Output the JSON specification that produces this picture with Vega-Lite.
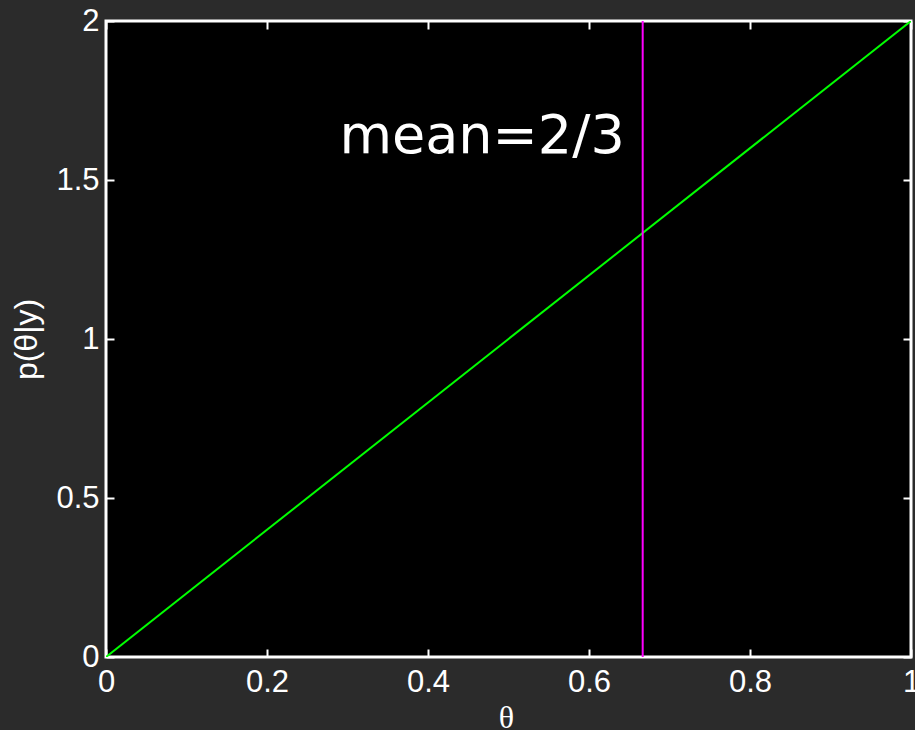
{
  "$schema": "https://vega.github.io/schema/vega-lite/v6.json",
  "width": 805,
  "height": 636,
  "autosize": {"type": "none"},
  "padding": {"left": 106, "top": 21, "right": 4, "bottom": 73},
  "background": "#2b2b2b",
  "config": {
    "view": {"fill": "#000000", "stroke": "#ffffff", "strokeWidth": 3},
    "axis": {
      "domain": false,
      "grid": false,
      "tickColor": "#ffffff",
      "tickWidth": 2,
      "tickSize": -8,
      "labelColor": "#ffffff",
      "labelFont": "Liberation Sans",
      "labelFontSize": 31,
      "titleColor": "#ffffff",
      "labelOverlap": false,
      "labelFlush": false,
      "labelBound": false
    }
  },
  "resolve": {"axis": {"x": "independent", "y": "independent"}},
  "layer": [
    {
      "data": {"values": [{"theta": 0, "p": 0}, {"theta": 0.5, "p": 1}, {"theta": 1, "p": 2}]},
      "mark": {"type": "line", "color": "#00ff00", "strokeWidth": 2, "clip": true},
      "encoding": {
        "x": {
          "field": "theta", "type": "quantitative",
          "scale": {"domain": [0, 1], "nice": false, "zero": false},
          "axis": {
            "orient": "bottom",
            "values": [0, 0.2, 0.4, 0.6, 0.8, 1],
            "format": ".1~f",
            "labelPadding": 18,
            "title": "θ",
            "titleFont": "Liberation Serif",
            "titleFontSize": 32,
            "titleFontWeight": "normal",
            "titleBaseline": "alphabetic",
            "titleAnchor": null,
            "titleX": 400,
            "titleY": 70
          }
        },
        "y": {
          "field": "p", "type": "quantitative",
          "scale": {"domain": [0, 2], "nice": false, "zero": false},
          "axis": {
            "orient": "left",
            "values": [0, 0.5, 1, 1.5, 2],
            "format": ".1~f",
            "labelPadding": 15,
            "title": "p(θ|y)",
            "titleFont": "Liberation Sans",
            "titleFontSize": 32,
            "titleFontWeight": "normal",
            "titleAngle": -90,
            "titleBaseline": "alphabetic",
            "titleAlign": "center",
            "titleAnchor": null,
            "titleX": -70,
            "titleY": 318
          }
        }
      }
    },
    {
      "data": {"values": [{"theta": 0.6667}]},
      "mark": {"type": "rule", "color": "#ff00ff", "strokeWidth": 2},
      "encoding": {
        "x": {
          "field": "theta", "type": "quantitative",
          "scale": {"domain": [0, 1], "nice": false, "zero": false},
          "axis": {"orient": "top", "values": [0, 0.2, 0.4, 0.6, 0.8, 1], "labels": false, "title": null}
        }
      }
    },
    {
      "data": {"values": [{"theta": 0.29, "p": 1.585, "label": "mean=2/3"}]},
      "mark": {"type": "text", "color": "#ffffff", "font": "DejaVu Sans", "fontSize": 54, "align": "left", "baseline": "alphabetic"},
      "encoding": {
        "x": {"field": "theta", "type": "quantitative", "scale": {"domain": [0, 1], "nice": false, "zero": false}, "axis": null},
        "y": {
          "field": "p", "type": "quantitative",
          "scale": {"domain": [0, 2], "nice": false, "zero": false},
          "axis": {"orient": "right", "values": [0, 0.5, 1, 1.5, 2], "labels": false, "title": null}
        },
        "text": {"field": "label"}
      }
    }
  ]
}
